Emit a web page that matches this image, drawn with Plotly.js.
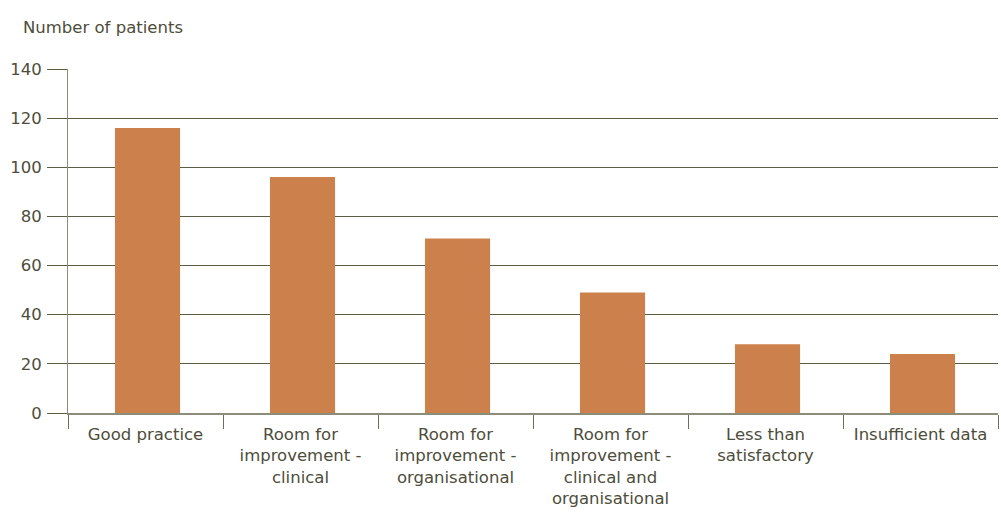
<!DOCTYPE html>
<html>
<head>
<meta charset="utf-8">
<script src="https://cdn.plot.ly/plotly-3.0.1.min.js"></script>
<style>html,body{margin:0;padding:0;background:#fff;}#chart{width:1001px;height:518px;}</style>
</head>
<body>
<div id="chart"></div>
<script>
const categories = [
  "Good practice",
  "Room for<br>improvement -<br>clinical",
  "Room for<br>improvement -<br>organisational",
  "Room for<br>improvement -<br>clinical and<br>organisational",
  "Less than<br>satisfactory",
  "Insufficient data"
];
const patients = [116, 96, 71, 49, 28, 24];
const yTicks = [0, 20, 40, 60, 80, 100, 120, 140];
const yTitle = "Number of patients";

const textColor = "#4d4d3a";
const fontFam = "DejaVu Sans, Liberation Sans, Arial, sans-serif";

const data = [{
  type: "bar",
  x: categories,
  y: patients,
  width: 0.42,
  offset: -0.197,
  marker: {color: "#cc814d"},
  hoverinfo: "x+y"
}];

const layout = {
  width: 1001, height: 518,
  margin: {l: 68, r: 3, t: 69, b: 105},
  paper_bgcolor: "#ffffff",
  plot_bgcolor: "#ffffff",
  showlegend: false,
  font: {family: fontFam, size: 16.5, color: textColor},
  xaxis: {
    type: "category",
    tickson: "boundaries",
    ticks: "outside",
    ticklen: 14,
    tickcolor: "#6e6e5a",
    tickwidth: 1,
    showline: true,
    linecolor: "#8c8c7a",
    linewidth: 2,
    showgrid: false,
    tickfont: {family: fontFam, size: 16.5, color: textColor},
    ticklabelstandoff: 5,
    fixedrange: true
  },
  yaxis: {
    range: [0, 140],
    tickvals: yTicks,
    ticktext: yTicks.map(String),
    ticks: "outside",
    ticklen: 20,
    tickcolor: "#5c5c45",
    tickwidth: 1,
    showline: true,
    linecolor: "#8c8c7a",
    linewidth: 1,
    showgrid: true,
    gridcolor: "#5c5c45",
    gridwidth: 1,
    zeroline: false,
    tickfont: {family: fontFam, size: 16.5, color: textColor},
    ticklabelstandoff: 2,
    fixedrange: true
  },
  annotations: [{
    text: yTitle,
    xref: "paper", yref: "paper",
    x: 0, y: 1,
    xshift: -47, yshift: 42,
    xanchor: "left", yanchor: "middle",
    showarrow: false,
    font: {family: fontFam, size: 16.5, color: textColor}
  }]
};

Plotly.newPlot("chart", data, layout, {displayModeBar: false, staticPlot: true});
</script>
</body>
</html>
